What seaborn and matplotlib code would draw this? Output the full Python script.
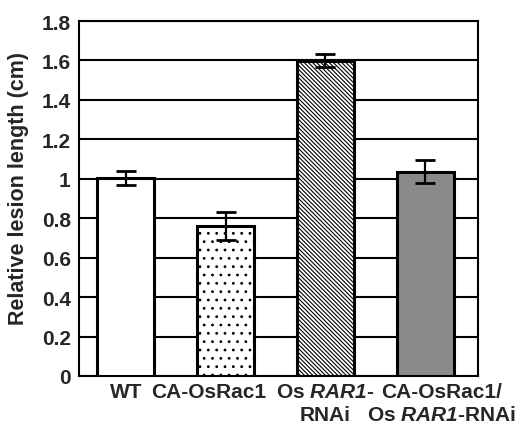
import numpy as np
import pandas as pd
import seaborn as sns
import matplotlib.pyplot as plt
from matplotlib.transforms import offset_copy

sns.set_style("white")
plt.rcParams['font.family'] = ['Liberation Sans', 'DejaVu Sans']
plt.rcParams['font.weight'] = 'bold'
plt.rcParams['mathtext.fontset'] = 'custom'
plt.rcParams['mathtext.it'] = 'Liberation Sans:bold:italic'
plt.rcParams['mathtext.rm'] = 'Liberation Sans:bold:italic'
plt.rcParams['hatch.linewidth'] = 0.8

# --- data ---
groups = ["WT", "CA-OsRac1", "Os RAR1-RNAi", "CA-OsRac1/Os RAR1-RNAi"]
tick_labels = ["WT", "CA-OsRac1", "Os $\\mathit{RAR1}$-\nRNAi",
               "CA-OsRac1/\nOs $\\mathit{RAR1}$-RNAi"]
label_shift = [0, -12, 0, 12]   # points, labels sit a bit off-centre
lesion = [1.005, 0.762, 1.598, 1.035]
err = [0.035, 0.072, 0.033, 0.058]
fills = ["white", "white", "white", "#8a8a8a"]
hatches = ["", "..", "\\" * 8, ""]

df = pd.DataFrame({"group": groups, "lesion": lesion})

fig = plt.figure(figsize=(5.2, 4.27), dpi=100)
ax = fig.add_axes([79/520, 50/427, 399/520, 355/427])

sns.barplot(x="group", y="lesion", data=df, ax=ax, width=0.57,
            errorbar=None, edgecolor="black", linewidth=2.2, zorder=3)
for p, fc, h in zip(ax.patches, fills, hatches):
    p.set_facecolor(fc)
    p.set_hatch(h)

ax.errorbar(np.arange(len(groups)), lesion, yerr=err, fmt="none",
            ecolor="black", elinewidth=1.6, capsize=7, capthick=2, zorder=4)

ax.set_ylim(0, 1.8)
ax.set_xlim(-0.47, 3.53)
ax.set_yticks(np.arange(0, 1.81, 0.2))
ax.set_yticklabels(["0", "0.2", "0.4", "0.6", "0.8", "1", "1.2", "1.4", "1.6", "1.8"])
ax.yaxis.grid(True, color="black", linewidth=1.5)
ax.set_axisbelow(True)
ax.set_xticks(range(len(groups)))
ax.set_xticklabels([])
ax.tick_params(axis="y", labelsize=15, length=0, pad=6)
ax.tick_params(axis="x", length=0)
for lbl in ax.get_yticklabels():
    lbl.set_fontweight("bold")
for s in ax.spines.values():
    s.set_color("black")
    s.set_linewidth(1.5)

# category labels
for i, (txt, dx) in enumerate(zip(tick_labels, label_shift)):
    tr = offset_copy(ax.get_xaxis_transform(), fig=fig, x=dx, y=-4, units="points")
    ax.text(i, 0, txt, transform=tr, ha="center", va="top", fontsize=15,
            fontweight="bold", linespacing=1.3, multialignment="center")

ax.set_xlabel("")
ax.set_ylabel("Relative lesion length (cm)", fontsize=15.5, fontweight="bold")
ax.yaxis.set_label_coords(-0.125, 0.53)

plt.savefig("out.png", dpi=100)
plt.close()
